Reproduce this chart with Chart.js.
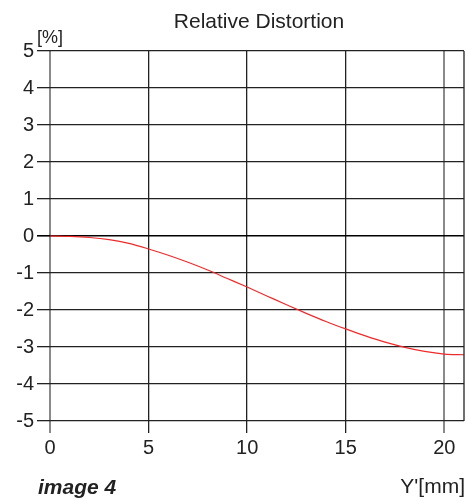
<!DOCTYPE html>
<html>
<head>
<meta charset="utf-8">
<script src="https://cdn.jsdelivr.net/npm/chart.js@4/dist/chart.umd.min.js"></script>
<style>
html,body{margin:0;padding:0;background:#fff;}
#wrap{position:relative;width:466px;height:501px;}
</style>
</head>
<body>
<div id="wrap"><canvas id="c" width="466" height="501"></canvas></div>
<script>
const chartTitle = "Relative Distortion";
const yUnit = "[%]";
const xUnit = "Y'[mm]";
const caption = "image 4";
const xTicks = [0, 5, 10, 15, 20];
const yTicks = [-5, -4, -3, -2, -1, 0, 1, 2, 3, 4, 5];
const imageHeight = [0, 1, 2, 3, 4, 5, 6, 7, 8, 9, 10, 11, 12, 13, 14, 15, 16, 17, 18, 19, 20, 21];
const distortion = [0, -0.01, -0.04, -0.1, -0.2, -0.35, -0.52, -0.71, -0.92, -1.15, -1.38, -1.62, -1.86, -2.09, -2.31, -2.51, -2.7, -2.87, -3.01, -3.12, -3.19, -3.21];

const FONT = "'Liberation Sans', Arial, sans-serif";

const textPlugin = {
  id: 'texts',
  afterDraw(chart) {
    const ctx = chart.ctx;
    const a = chart.chartArea;
    ctx.save();
    ctx.strokeStyle = '#222';
    ctx.lineWidth = 1.3;
    ctx.beginPath();
    ctx.moveTo(a.right, a.top);
    ctx.lineTo(a.right, a.bottom);
    ctx.stroke();
    ctx.fillStyle = '#222';
    ctx.textBaseline = 'middle';
    ctx.font = "21px " + FONT;
    ctx.textAlign = 'center';
    ctx.fillText(chartTitle, 259, 22);
    ctx.font = "18px " + FONT;
    ctx.textAlign = 'left';
    ctx.fillText(yUnit, 37, 38);
    ctx.font = "21px " + FONT;
    ctx.textAlign = 'right';
    ctx.fillText(xUnit, 465, 487);
    ctx.font = "italic bold 21px " + FONT;
    ctx.textAlign = 'left';
    ctx.fillText(caption, 38, 488);
    ctx.restore();
  }
};

new Chart(document.getElementById('c'), {
  type: 'line',
  data: {
    datasets: [{
      data: imageHeight.map((x, i) => ({x: x, y: distortion[i]})),
      borderColor: '#ee2a2a',
      borderWidth: 1.2,
      pointRadius: 0,
      fill: false,
      cubicInterpolationMode: 'monotone'
    }]
  },
  options: {
    responsive: false,
    animation: false,
    layout: {padding: {top: 51, right: 2, bottom: 0, left: 0}},
    plugins: {legend: {display: false}, title: {display: false}, tooltip: {enabled: false}},
    scales: {
      x: {
        type: 'linear',
        min: 0, max: 21,
        afterBuildTicks: s => { s.ticks = xTicks.map(v => ({value: v})); },
        afterFit: s => { s.height = 80; },
        ticks: {color: '#222', font: {size: 20, family: FONT}, padding: 3, maxRotation: 0},
        grid: {
          color: c => (c.tick && (c.tick.value === 0 || c.tick.value === 20)) ? '#8a8a8a' : '#222',
          lineWidth: c => (c.tick && (c.tick.value === 0 || c.tick.value === 20)) ? 2 : 1.3,
          tickLength: 12
        },
        border: {display: false}
      },
      y: {
        type: 'linear',
        min: -5, max: 5,
        afterBuildTicks: s => { s.ticks = yTicks.map(v => ({value: v})); },
        afterFit: s => { s.width = 50; },
        ticks: {color: '#222', font: {size: 20, family: FONT}, padding: 3},
        grid: {
          color: c => (c.tick && c.tick.value === 0) ? '#000' : '#222',
          lineWidth: c => (c.tick && c.tick.value === 0) ? 1.6 : 1.3,
          tickLength: 13
        },
        border: {display: false}
      }
    }
  },
  plugins: [textPlugin]
});
</script>
</body>
</html>
